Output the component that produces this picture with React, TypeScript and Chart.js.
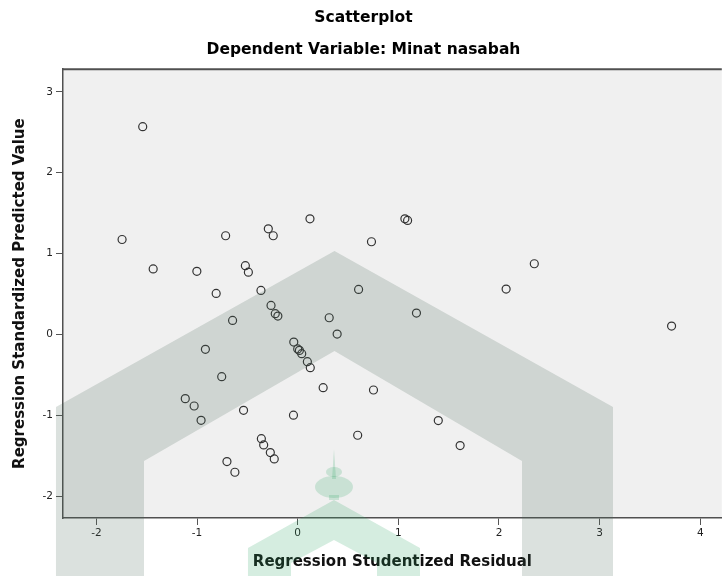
import React, { useEffect, useRef } from "react";
import { Chart, registerables } from "chart.js";

Chart.register(...registerables);

const TITLE = "Scatterplot";
const SUBTITLE = "Dependent Variable: Minat nasabah";
const X_TITLE = "Regression Studentized Residual";
const Y_TITLE = "Regression Standardized Predicted Value";

const X_MIN = -2.332;
const X_MAX = 4.214;
const Y_MIN = -2.272;
const Y_MAX = 3.281;

const studentizedResidual = [
  -1.54, -1.745, -1.436, -1.002, -0.716, -0.81, -0.52, -0.49, -0.647, -0.917,
  -0.755, -1.117, -1.029, -0.96, -0.538, -0.703, -0.624, -0.265, -0.223, -0.197,
  0.313, 1.18, 0.392, -0.039, 0.0, 0.017, 0.04, 0.096, 0.125, 0.253,
  0.753, -0.042, 0.596, 1.397, 1.614, -0.361, -0.338, -0.272, -0.233, 3.715,
  0.122, 1.065, 1.092, -0.292, -0.243, 0.733, -0.365, 0.605, 2.351, 2.071,
];

const standardizedPredicted = [
  2.57, 1.174, 0.81, 0.78, 1.22, 0.507, 0.85, 0.77, 0.173, -0.185,
  -0.523, -0.795, -0.886, -1.063, -0.94, -1.574, -1.706, 0.358, 0.256, 0.226,
  0.206, 0.263, 0.004, -0.095, -0.18, -0.198, -0.239, -0.338, -0.412, -0.659,
  -0.688, -1.0, -1.248, -1.067, -1.376, -1.29, -1.368, -1.462, -1.541, 0.103,
  1.43, 1.43, 1.41, 1.306, 1.22, 1.146, 0.544, 0.556, 0.874, 0.56,
];

const FONT = "'DejaVu Sans', 'Liberation Sans', sans-serif";

const backgroundPlugin = {
  id: "plotBackground",
  beforeDraw(chart: any) {
    const { ctx, chartArea } = chart;
    ctx.save();
    ctx.fillStyle = "#ffffff";
    ctx.fillRect(0, 0, chart.width, chart.height);
    ctx.fillStyle = "#f0f0f0";
    ctx.fillRect(
      chartArea.left,
      chartArea.top,
      chartArea.right - chartArea.left,
      chartArea.bottom - chartArea.top
    );
    ctx.restore();
  },
  afterDraw(chart: any) {
    const { ctx, chartArea } = chart;
    ctx.save();
    // top frame line
    ctx.strokeStyle = "#505050";
    ctx.lineWidth = 2;
    ctx.beginPath();
    ctx.moveTo(chartArea.left, chartArea.top);
    ctx.lineTo(chartArea.right, chartArea.top);
    ctx.stroke();

    // watermark overlay (decorative, in canvas fractions)
    const W = chart.width;
    const H = chart.height;
    const px = (f: number) => f * W;
    const py = (f: number) => f * H;

    ctx.fillStyle = "rgba(75,105,90,0.2)";
    ctx.beginPath();
    ctx.moveTo(px(0.077), py(1));
    ctx.lineTo(px(0.077), py(0.7066));
    ctx.lineTo(px(0.4601), py(0.4358));
    ctx.lineTo(px(0.8432), py(0.7066));
    ctx.lineTo(px(0.8432), py(1));
    ctx.lineTo(px(0.718), py(1));
    ctx.lineTo(px(0.718), py(0.8003));
    ctx.lineTo(px(0.4601), py(0.6094));
    ctx.lineTo(px(0.1981), py(0.8003));
    ctx.lineTo(px(0.1981), py(1));
    ctx.closePath();
    ctx.fill();

    ctx.fillStyle = "rgba(45,165,100,0.2)";
    ctx.beginPath();
    ctx.moveTo(px(0.3411), py(1));
    ctx.lineTo(px(0.3411), py(0.9514));
    ctx.lineTo(px(0.4594), py(0.8681));
    ctx.lineTo(px(0.5777), py(0.9514));
    ctx.lineTo(px(0.5777), py(1));
    ctx.lineTo(px(0.5186), py(1));
    ctx.lineTo(px(0.5186), py(0.9774));
    ctx.lineTo(px(0.4594), py(0.9375));
    ctx.lineTo(px(0.4003), py(0.9774));
    ctx.lineTo(px(0.4003), py(1));
    ctx.closePath();
    // neck
    ctx.moveTo(px(0.4525), py(0.8594));
    ctx.lineTo(px(0.4663), py(0.8594));
    ctx.lineTo(px(0.4663), py(0.8681));
    ctx.lineTo(px(0.4525), py(0.8681));
    ctx.closePath();
    ctx.fill();
    ctx.beginPath();
    ctx.ellipse(px(0.4594), py(0.8455), px(0.0261), py(0.0191), 0, 0, Math.PI * 2);
    ctx.fill();
    ctx.beginPath();
    ctx.ellipse(px(0.4594), py(0.8194), px(0.011), py(0.0087), 0, 0, Math.PI * 2);
    ctx.fill();
    ctx.beginPath();
    ctx.moveTo(px(0.4567), py(0.8316));
    ctx.lineTo(px(0.4594), py(0.7795));
    ctx.lineTo(px(0.4622), py(0.8316));
    ctx.closePath();
    ctx.fill();
    ctx.restore();
  },
};

export default function App() {
  const canvasRef = useRef<HTMLCanvasElement | null>(null);

  useEffect(() => {
    document.body.style.margin = "0";
    const canvas = canvasRef.current;
    if (!canvas) return;
    const points = studentizedResidual.map((x, i) => ({ x, y: standardizedPredicted[i] }));
    const chart = new Chart(canvas, {
      type: "scatter",
      data: {
        datasets: [
          {
            data: points,
            pointStyle: "circle",
            pointRadius: 4,
            pointBorderWidth: 1.2,
            borderColor: "#333333",
            backgroundColor: "rgba(0,0,0,0)",
            pointHoverRadius: 4,
          },
        ],
      },
      options: {
        responsive: false,
        animation: false,
        devicePixelRatio: 1,
        layout: { padding: 0 },
        plugins: {
          legend: { display: false },
          tooltip: { enabled: false },
          title: {
            display: true,
            text: TITLE,
            color: "#000",
            font: { family: FONT, size: 15.5, weight: "bold" },
            padding: { top: 9, bottom: 13 },
          },
          subtitle: {
            display: true,
            text: SUBTITLE,
            color: "#000",
            font: { family: FONT, size: 15.5, weight: "bold" },
            padding: { top: 0, bottom: 10 },
          },
        },
        scales: {
          x: {
            type: "linear",
            min: X_MIN,
            max: X_MAX,
            afterFit(scale: any) {
              scale.height = 58;
            },
            ticks: {
              stepSize: 1,
              includeBounds: false,
              color: "#222",
              font: { family: FONT, size: 10.5 },
              padding: 2,
              maxRotation: 0,
            },
            grid: {
              display: true,
              drawOnChartArea: false,
              drawTicks: true,
              tickLength: 7,
              color: "#555",
              lineWidth: 1,
            },
            border: { display: true, color: "#505050", width: 1.5 },
            title: {
              display: true,
              text: X_TITLE,
              color: "#111",
              font: { family: FONT, size: 15, weight: "bold" },
              padding: { top: 4, bottom: 5 },
            },
          },
          y: {
            type: "linear",
            min: Y_MIN,
            max: Y_MAX,
            afterFit(scale: any) {
              scale.width = 63;
            },
            ticks: {
              stepSize: 1,
              includeBounds: false,
              color: "#222",
              font: { family: FONT, size: 10.5 },
              padding: 3,
            },
            grid: {
              display: true,
              drawOnChartArea: false,
              drawTicks: true,
              tickLength: 7,
              color: "#555",
              lineWidth: 1,
            },
            border: { display: true, color: "#505050", width: 1.5 },
            title: {
              display: true,
              text: Y_TITLE,
              color: "#111",
              font: { family: FONT, size: 15, weight: "bold" },
              padding: { top: 11, bottom: 0 },
            },
          },
        },
      },
      plugins: [backgroundPlugin],
    });
    return () => chart.destroy();
  }, []);

  return (
    <div style={{ position: "absolute", left: 0, top: 0, width: 727, height: 576 }}>
      <canvas ref={canvasRef} width={727} height={576} />
    </div>
  );
}
